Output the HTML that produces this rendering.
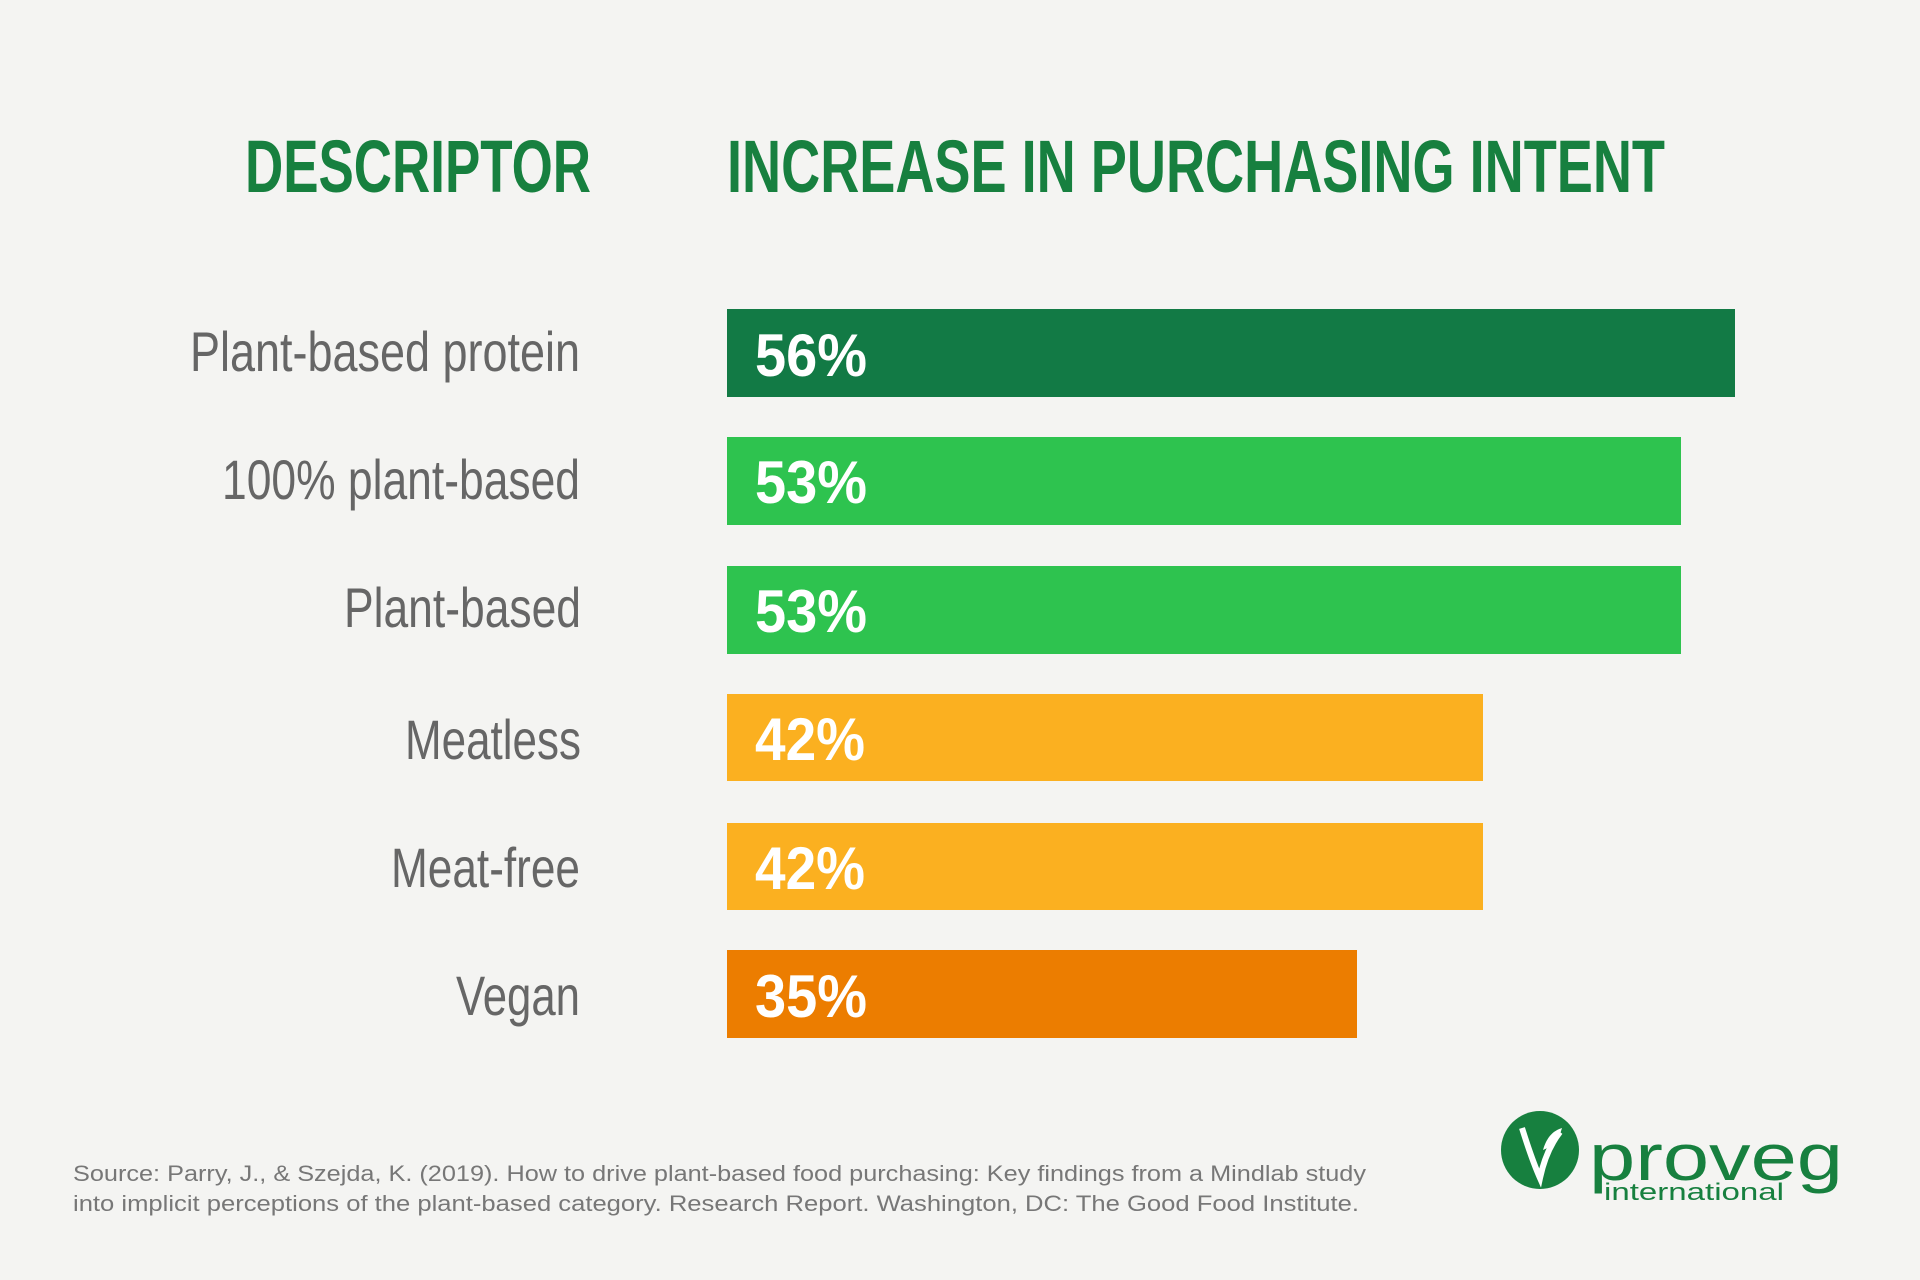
<!DOCTYPE html>
<html><head><meta charset="utf-8"><style>
html,body{margin:0;padding:0;background:#f4f4f2;}
svg{display:block;}
</style></head><body>
<svg width="1920" height="1280" viewBox="0 0 1920 1280" xmlns="http://www.w3.org/2000/svg">
<rect width="1920" height="1280" fill="#f4f4f2"/>
<g font-family="Liberation Sans Narrow, Liberation Sans, sans-serif" font-weight="bold" fill="#17803f" font-size="74">
<text x="245" y="192" textLength="346" lengthAdjust="spacingAndGlyphs">DESCRIPTOR</text>
<text x="727" y="192" textLength="938" lengthAdjust="spacingAndGlyphs">INCREASE IN PURCHASING INTENT</text>
</g>
<rect x="727" y="309" width="1008" height="88" fill="#127a45"/>
<rect x="727" y="437" width="954" height="88" fill="#2ec34f"/>
<rect x="727" y="566" width="954" height="88" fill="#2ec34f"/>
<rect x="727" y="694" width="756" height="87" fill="#fbb020"/>
<rect x="727" y="823" width="756" height="87" fill="#fbb020"/>
<rect x="727" y="950" width="630" height="88" fill="#ec7d00"/>
<g font-family="Liberation Sans Narrow, Liberation Sans, sans-serif" font-weight="bold" fill="#fff" font-size="60">
<text x="755" y="376" textLength="112" lengthAdjust="spacingAndGlyphs">56%</text>
<text x="755" y="503" textLength="112" lengthAdjust="spacingAndGlyphs">53%</text>
<text x="755" y="632" textLength="112" lengthAdjust="spacingAndGlyphs">53%</text>
<text x="755" y="760" textLength="110" lengthAdjust="spacingAndGlyphs">42%</text>
<text x="755" y="889" textLength="110" lengthAdjust="spacingAndGlyphs">42%</text>
<text x="755" y="1017" textLength="112" lengthAdjust="spacingAndGlyphs">35%</text>
</g>
<g font-family="Liberation Sans Narrow, Liberation Sans, sans-serif" fill="#666" font-size="56" text-anchor="end">
<text x="580" y="371" textLength="390" lengthAdjust="spacingAndGlyphs">Plant-based protein</text>
<text x="580" y="499" textLength="358" lengthAdjust="spacingAndGlyphs">100% plant-based</text>
<text x="581" y="627" textLength="237" lengthAdjust="spacingAndGlyphs">Plant-based</text>
<text x="581" y="759" textLength="176" lengthAdjust="spacingAndGlyphs">Meatless</text>
<text x="580" y="887" textLength="189" lengthAdjust="spacingAndGlyphs">Meat-free</text>
<text x="580" y="1015" textLength="124" lengthAdjust="spacingAndGlyphs">Vegan</text>
</g>
<g font-family="Liberation Sans, sans-serif" fill="#777" font-size="22">
<text x="73" y="1181" textLength="1293" lengthAdjust="spacingAndGlyphs">Source: Parry, J., &amp; Szejda, K. (2019). How to drive plant-based food purchasing: Key findings from a Mindlab study</text>
<text x="73" y="1211" textLength="1286" lengthAdjust="spacingAndGlyphs">into implicit perceptions of the plant-based category. Research Report. Washington, DC: The Good Food Institute.</text>
</g>
<circle cx="1540" cy="1150" r="39" fill="#17803f"/>
<path d="M1522 1128 Q1532 1160 1540 1178 Q1546 1150 1560 1132" stroke="#fff" stroke-width="6" fill="none"/>
<path d="M1543 1150 Q1548 1132 1562 1128 Q1558 1144 1543 1150Z" fill="#fff"/>
<g font-family="Liberation Sans, sans-serif" fill="#17803f">
<text x="1589" y="1180" font-size="66" textLength="254" lengthAdjust="spacingAndGlyphs">proveg</text>
<text x="1604" y="1200" font-size="24" textLength="180" lengthAdjust="spacingAndGlyphs">international</text>
</g>
</svg>
</body></html>
